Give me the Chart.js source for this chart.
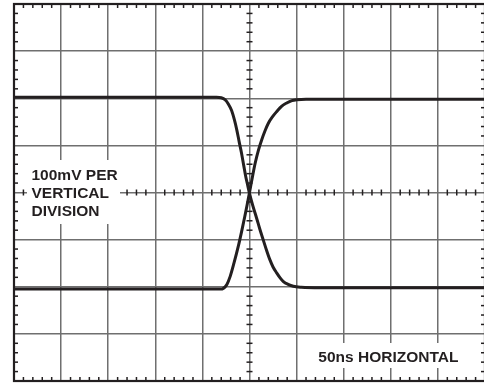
<!DOCTYPE html>
<html>
<head>
<meta charset="utf-8">
<script src="https://cdn.jsdelivr.net/npm/chart.js@4/dist/chart.umd.min.js"></script>
<style>
  html, body { margin: 0; padding: 0; background: #fff; overflow: hidden; }
  #wrap { width: 490px; height: 383px; }
</style>
</head>
<body>
<div id="wrap"><canvas id="c" width="490" height="383"></canvas></div>
<script>
// Axis ranges in divisions (10 horizontal x 8 vertical)
const xDivisions = [0, 1, 2, 3, 4, 5, 6, 7, 8, 9, 10];
const yDivisions = [-4, -3, -2, -1, 0, 1, 2, 3, 4];

// Falling trace (divisions)
const fallX = [0, 4.30, 4.40, 4.48, 4.55, 4.62, 4.68, 4.73, 4.78, 4.83, 4.88, 4.92, 4.96, 5.00, 5.07, 5.15, 5.22, 5.29, 5.36, 5.43, 5.50, 5.58, 5.65, 5.72, 5.82, 5.93, 6.10, 6.50, 10];
const fallY = [2.02, 2.02, 2.01, 1.97, 1.88, 1.74, 1.54, 1.33, 1.08, 0.84, 0.56, 0.34, 0.16, -0.02, -0.28, -0.54, -0.78, -1.00, -1.22, -1.42, -1.58, -1.71, -1.81, -1.89, -1.95, -1.99, -2.01, -2.02, -2.02];

// Rising trace (divisions)
const riseX = [0, 4.38, 4.45, 4.52, 4.59, 4.67, 4.76, 4.83, 4.90, 4.95, 5.00, 5.06, 5.12, 5.19, 5.26, 5.33, 5.40, 5.49, 5.58, 5.68, 5.79, 5.90, 6.00, 6.20, 10];
const riseY = [-2.05, -2.05, -2.03, -1.95, -1.78, -1.50, -1.15, -0.84, -0.51, -0.26, 0.00, 0.32, 0.62, 0.90, 1.12, 1.31, 1.47, 1.61, 1.72, 1.83, 1.90, 1.95, 1.97, 1.98, 1.98];

// Annotation text
const verticalLabel = ['100mV PER', 'VERTICAL', 'DIVISION'];
const horizontalLabel = '50ns HORIZONTAL';

const toPoints = (xs, ys) => xs.map((x, i) => ({ x: x, y: ys[i] }));

const INK = '#231f20';
const GRID = '#6f6f6f';

const scopePlugin = {
  id: 'scope',
  beforeDatasetsDraw(chart) {
    const { ctx, chartArea: a, scales: { x, y } } = chart;
    const x0 = x.getPixelForValue(5);
    const y0 = y.getPixelForValue(0);
    ctx.save();
    ctx.strokeStyle = INK;
    ctx.lineWidth = 1.5;
    const seg = (x1, y1, x2, y2) => { ctx.beginPath(); ctx.moveTo(x1, y1); ctx.lineTo(x2, y2); ctx.stroke(); };
    // minor ticks (1/5 division)
    for (let i = 0; i < 10; i++) {
      for (let k = 1; k < 5; k++) {
        const px = x.getPixelForValue(i + k / 5);
        seg(px, a.top, px, a.top + 4);
        seg(px, a.bottom, px, a.bottom - 4);
        seg(px, y0 - 3, px, y0 + 3);
      }
    }
    for (let i = -4; i < 4; i++) {
      for (let k = 1; k < 5; k++) {
        const py = y.getPixelForValue(i + k / 5);
        seg(a.left, py, a.left + 4, py);
        seg(a.right, py, a.right - 4, py);
        seg(x0 - 3, py, x0 + 3, py);
      }
    }
    // white label backgrounds
    ctx.fillStyle = '#ffffff';
    ctx.fillRect(27, 160, 93, 64);
    ctx.fillRect(312, 343, 156, 25);
    // labels
    ctx.fillStyle = INK;
    ctx.font = 'bold 15.5px "Liberation Sans", Arial, Helvetica, sans-serif';
    ctx.textAlign = 'left';
    ctx.textBaseline = 'alphabetic';
    const bases = [179.5, 197.8, 216];
    verticalLabel.forEach((t, i) => ctx.fillText(t, 31.5, bases[i]));
    ctx.fillText(horizontalLabel, 318.3, 362);
    // frame
    ctx.lineWidth = 2.2;
    ctx.strokeRect(a.left, a.top, a.right - a.left, a.bottom - a.top);
    ctx.restore();
  }
};

new Chart(document.getElementById('c'), {
  type: 'scatter',
  data: {
    datasets: [
      { data: toPoints(fallX, fallY), showLine: true, borderColor: INK, borderWidth: 3, pointRadius: 0, cubicInterpolationMode: 'monotone', fill: false },
      { data: toPoints(riseX, riseY), showLine: true, borderColor: INK, borderWidth: 3, pointRadius: 0, cubicInterpolationMode: 'monotone', fill: false }
    ]
  },
  options: {
    responsive: false,
    animation: false,
    devicePixelRatio: 1,
    layout: { padding: { left: 14, top: 4, right: 5, bottom: 2 } },
    plugins: { legend: { display: false }, tooltip: { enabled: false } },
    scales: {
      x: {
        type: 'linear', min: xDivisions[0], max: xDivisions[xDivisions.length - 1],
        afterBuildTicks: s => { s.ticks = xDivisions.map(v => ({ value: v })); },
        ticks: { display: false },
        grid: { color: GRID, lineWidth: 1.5, drawTicks: false },
        border: { display: false }
      },
      y: {
        type: 'linear', min: yDivisions[0], max: yDivisions[yDivisions.length - 1],
        afterBuildTicks: s => { s.ticks = yDivisions.map(v => ({ value: v })); },
        ticks: { display: false },
        grid: { color: GRID, lineWidth: 1.5, drawTicks: false },
        border: { display: false }
      }
    }
  },
  plugins: [scopePlugin]
});
</script>
</body>
</html>
